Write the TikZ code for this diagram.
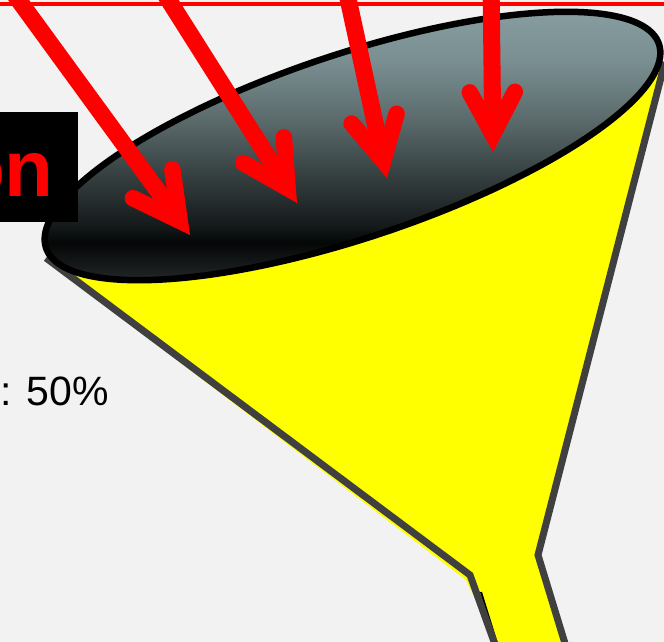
\documentclass[tikz,border=0pt]{standalone}
\usepackage{fontspec}
\setmainfont{Liberation Sans}
\usetikzlibrary{calc}

\definecolor{bgray}{HTML}{F2F2F2}
\definecolor{rimgray}{HTML}{404040}
\definecolor{funnelyellow}{HTML}{FFFF00}
\definecolor{topA}{HTML}{869C9F}
\definecolor{topB}{HTML}{7A8F92}
\definecolor{topC}{HTML}{5B6B6C}
\definecolor{topD}{HTML}{333C3D}
\definecolor{topE}{HTML}{151A1B}
\definecolor{topF}{HTML}{050707}
\definecolor{topG}{HTML}{222627}

% mouth of the funnel: dark at the bottom, grey-teal at the top
\pgfdeclareverticalshading{funneltop}{100bp}{
  color(0bp)=(topG); color(25bp)=(topG); color(32bp)=(topF);
  color(35.3bp)=(topE); color(43.7bp)=(topD); color(55bp)=(topC);
  color(66bp)=(topB); color(75bp)=(topA); color(100bp)=(topA)}

\tikzset{
  rim/.style={draw=rimgray, line width=7, line join=miter},
  rayshaft/.style={draw=red, line width=17, line cap=butt},
  rayhead/.style={draw=red, line width=16.5, line cap=round, line join=miter, miter limit=10},
  label/.style={inner sep=0, font=\fontsize{41}{41}\selectfont}
}

\begin{document}
\begin{tikzpicture}[x=1pt, y=-1pt]
  \useasboundingbox (0,0) rectangle (664,642);
  \clip (0,0) rectangle (664,642);
  \fill[bgray] (0,0) rectangle (664,642);

  % top rule
  \draw[red, line width=4] (0,4) -- (664,4);

  % funnel body
  \fill[funnelyellow] (48,262) -- (466,580) -- (500,650) -- (570,650)
        -- (538,555) -- (665,62) -- (352,146) -- cycle;
  \draw[black, line width=2] (481,592) -- (499,650);
  \draw[rim] (46,258) -- (470,575) -- (497,650);
  \draw[rim] (567,650) -- (538,555) -- (665,62);

  % mouth
  \shade[shading=funneltop, draw=black, line width=6.5]
    plot[domain=0:360, samples=181, variable=\t]
      ({352.5+323*cos(\t)*cos(18.4)+92*sin(\t)*sin(18.4)},
       {146-323*cos(\t)*sin(18.4)+92*sin(\t)*cos(18.4)}) -- cycle;

  % title box and percentage
  \node (titlebox) [fill=black, inner sep=0, minimum width=110, minimum height=110,
        anchor=north east] at (78,112) {};
  \node (title) [anchor=base east, inner sep=0, text=red,
        font=\fontsize{80}{80}\selectfont\bfseries] at (54,196) {on};
  \node (share) [label, anchor=base west] at (0,405) {: 50\%};

  % incoming rays: shaft plus an open chevron head
  \foreach \n/\sx/\sy/\tx/\ty/\arm in {1/4/-20/190/235/52, 2/156/-20/297/203/51,
                                        3/344/-20/387/178/49, 4/491/-20/493/152/48} {
    \coordinate (s\n) at (\sx,\sy);
    \coordinate (t\n) at (\tx,\ty);
    \coordinate (v\n) at ($(t\n)!17.5pt!(s\n)$);
    \coordinate (a\n) at ($(v\n)!\arm pt!28:(s\n)$);
    \coordinate (b\n) at ($(v\n)!\arm pt!-28:(s\n)$);
    \draw[rayshaft] (s\n) -- (v\n);
    \draw[rayhead] (a\n) -- (v\n) -- (b\n);
  }
\end{tikzpicture}
\end{document}
